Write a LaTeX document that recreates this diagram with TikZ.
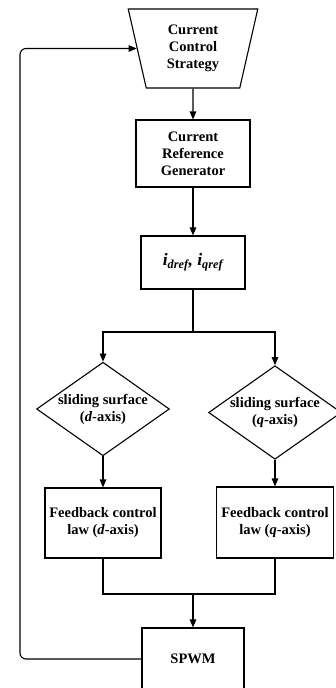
\documentclass[tikz,border=0pt]{standalone}
\usepackage{fontspec}
\setmainfont{Liberation Serif}
\usetikzlibrary{arrows.meta,shapes.geometric}

\begin{document}
\begin{tikzpicture}[x=1pt,y=-1pt,line width=1.1pt,
	font=\fontsize{14.5}{17}\selectfont\bfseries,
	blk/.style={draw,rectangle,align=center,inner sep=2pt},
	dia/.style={draw,diamond,align=center,inner sep=0pt,aspect=1.42},
	arr/.style={-{Triangle[length=8pt,width=6.5pt]}}]
	\useasboundingbox (0,0) rectangle (336,688);
	% main column
	\node[draw,trapezium,shape border rotate=180,trapezium stretches=true,
		trapezium left angle=78,trapezium right angle=78,
		minimum width=130pt,minimum height=79pt,align=center] (strat) at (193,48.5) {Current\\Control\\Strategy};
	\node[blk,minimum width=114pt,minimum height=67pt] (gen) at (193,153.5) {Current\\Reference\\Generator};
	\node[blk,minimum width=104pt,minimum height=53pt,font=\fontsize{17.5}{20}\selectfont\bfseries] (ref) at (193,262.5)
		{\itshape i\textsubscript{dref}, i\textsubscript{qref}};
	% d and q branches
	\node[dia,minimum width=131pt,minimum height=92pt] (dd) at (103,409) {sliding surface\\(\textit{d}-axis)};
	\node[dia,minimum width=123pt,minimum height=91pt] (qd) at (275,412.5) {sliding surface\\(\textit{q}-axis)};
	\node[blk,minimum width=116pt,minimum height=70pt] (fbd) at (103,523) {Feedback control\\law (\textit{d}-axis)};
	\node[blk,minimum width=117pt,minimum height=71pt] (fbq) at (275,522.5) {Feedback control\\law (\textit{q}-axis)};
	\node[blk,minimum width=102pt,minimum height=62pt] (spwm) at (193,659) {SPWM};
	\coordinate (split) at (193,332);
	\coordinate (join) at (193,594);
	\coordinate (loop) at (20,48.5);
	% connectors
	\draw[arr] (strat) -- (gen);
	\draw[arr] (gen) -- (ref);
	\draw (ref) -- (split);
	\draw[arr] (split) -| (dd.north);
	\draw[arr] (split) -| (qd.north);
	\draw[arr] (dd) -- (fbd);
	\draw[arr] (qd) -- (fbq);
	\draw (fbd.south) |- (join);
	\draw (fbq.south) |- (join);
	\draw[arr] (join) -- (spwm);
	\draw[arr,rounded corners=6pt] (spwm.west) -| (loop) -- (strat.west);
\end{tikzpicture}
\end{document}
